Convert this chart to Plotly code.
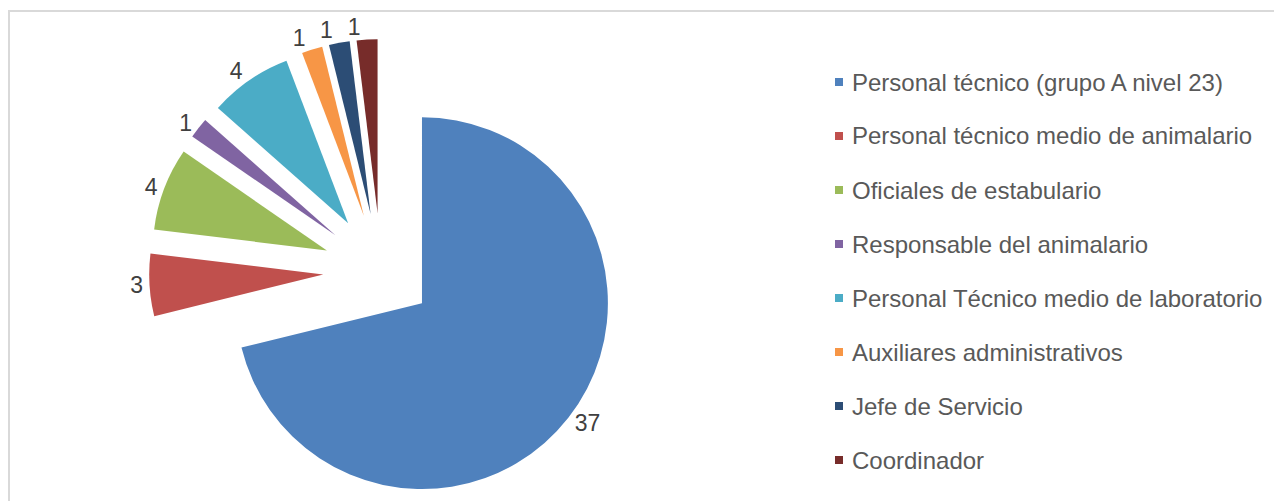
import plotly.graph_objects as go

categorias = [
    "Personal técnico (grupo A nivel 23)",
    "Personal técnico medio de animalario",
    "Oficiales de estabulario",
    "Responsable del animalario",
    "Personal Técnico medio de laboratorio",
    "Auxiliares administrativos",
    "Jefe de Servicio",
    "Coordinador",
]
valores = [37, 3, 4, 1, 4, 1, 1, 1]
colores = ["#4F81BD", "#C0504D", "#9BBB59", "#8064A2",
           "#4BACC6", "#F79646", "#2C4D75", "#772C2A"]

W, H = 1282, 501
OFF = 8  # margen del body de la pagina
n = len(valores)
transparente = "rgba(0,0,0,0)"

fuente_etiquetas = dict(size=23, color="#404040", family="Liberation Sans, Arial")

# la porcion grande sale algo mas grande que las demas en el original,
# asi que va en su propio pie con el mismo centro
dom_grande = dict(x=[0.1053, 0.4766], y=[0, 0.950])
dom_peque = dict(x=[0.110, 0.472], y=[0.012, 0.938])


def pie(visibles, con_texto, dominio, pull, hover=True):
    cols = [colores[i] if i in visibles else transparente for i in range(n)]
    pos = ["outside" if i in con_texto else "none" for i in range(n)]
    return go.Pie(
        labels=categorias,
        values=valores,
        marker=dict(colors=cols, line=dict(width=0)),
        sort=False,
        direction="clockwise",
        rotation=0,
        pull=pull,
        textinfo="value",
        textposition=pos,
        automargin=False,
        outsidetextfont=fuente_etiquetas,
        domain=dominio,
        showlegend=False,
        hoverinfo=None if hover else "skip",
    )


fig = go.Figure()
fig.add_trace(pie([0], [0], dom_grande, [0.28] + [0] * (n - 1)))
fig.add_trace(pie(range(1, n), [1, 2, 3, 4, 5], dom_peque, 0.333))
# etiquetas de las porciones pequenas de arriba en trazas aparte,
# para que plotly no las apile
fig.add_trace(pie([], [6], dom_peque, 0.333, hover=False))
fig.add_trace(pie([], [7], dom_peque, 0.333, hover=False))

# leyenda a mano, para tener el espaciado de Excel
shapes = []
annotations = []
for i, (cat, col) in enumerate(zip(categorias, colores)):
    yc = 82 + 54 * i - OFF
    shapes.append(dict(type="rect", xref="paper", yref="paper",
                       x0=(835 - OFF) / W, x1=(843 - OFF) / W,
                       y0=1 - (yc + 4) / H, y1=1 - (yc - 4) / H,
                       fillcolor=col, line=dict(width=0)))
    annotations.append(dict(text=cat, xref="paper", yref="paper",
                            x=(850 - OFF) / W, y=1 - yc / H,
                            xanchor="left", yanchor="middle", showarrow=False,
                            font=dict(size=24, color="#595959",
                                      family="Liberation Sans, Arial")))

# borde del area del grafico
shapes.append(dict(type="rect", xref="paper", yref="paper",
                   x0=(9 - OFF) / W, x1=1.02, y0=-0.02, y1=1 - (11 - OFF) / H,
                   line=dict(color="#D9D9D9", width=2)))

fig.update_layout(
    width=W, height=H,
    margin=dict(l=0, r=0, t=0, b=0, autoexpand=False),
    paper_bgcolor="white",
    plot_bgcolor="white",
    font=dict(family="Liberation Sans, Arial"),
    shapes=shapes,
    annotations=annotations,
)

fig.write_html("out.html")
